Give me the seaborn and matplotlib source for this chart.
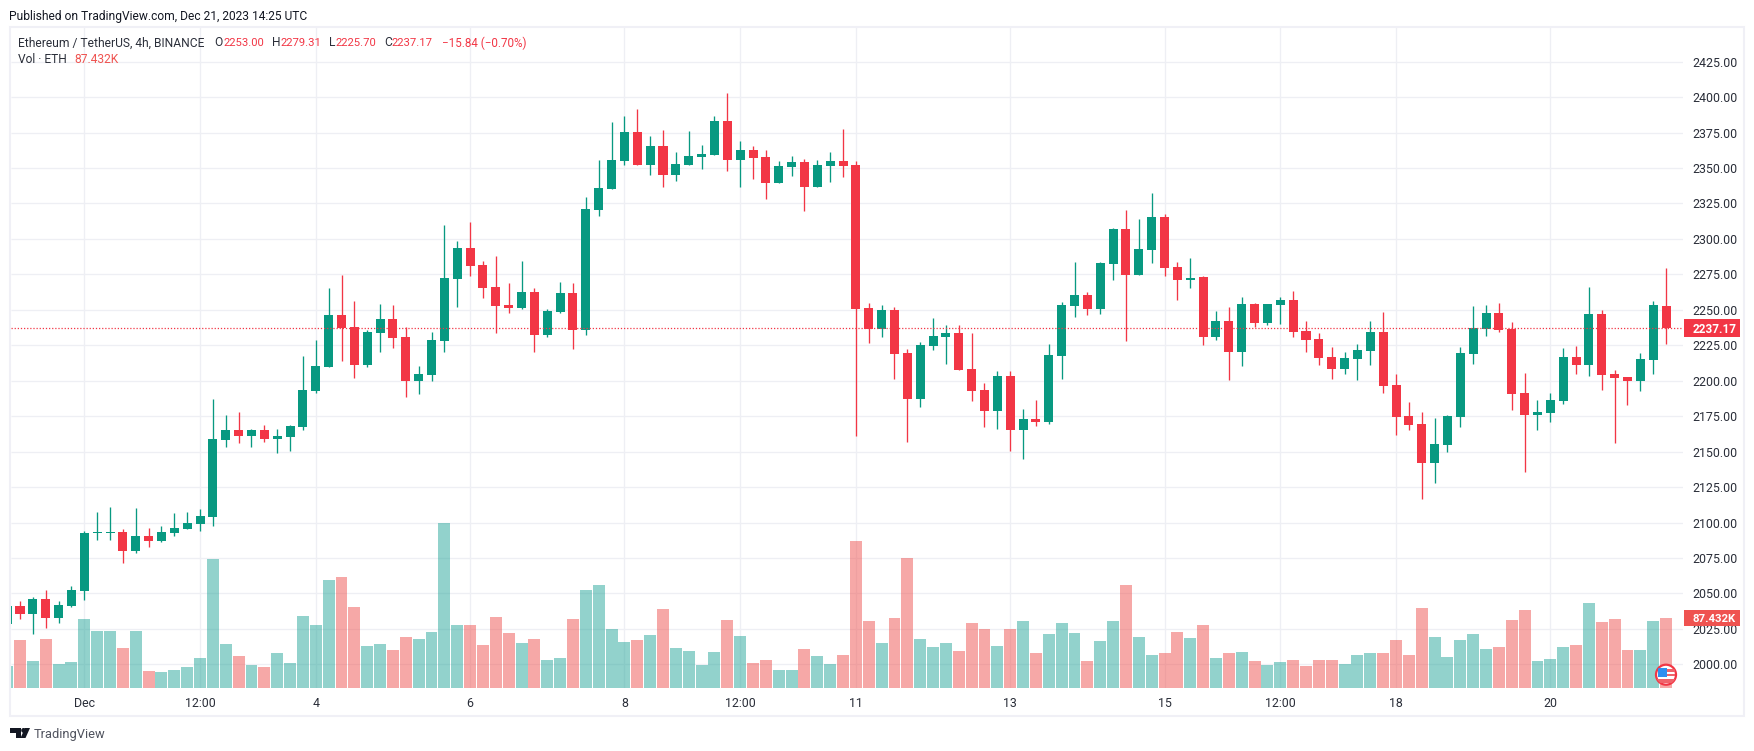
from matplotlib import pyplot as plt
from matplotlib.patches import Circle, Polygon, Rectangle
from matplotlib.transforms import blended_transform_factory
import numpy as np
import pandas as pd
import seaborn as sns

# candles in bar order, 4h, first bar is cut off by the left edge
first_bar = -6
opens = [2028.4, 2041.1, 2035.5, 2046.1, 2032.7, 2041.1, 2051.7, 2092.7, 2092.8, 2093.3,
         2079.9, 2090.5, 2087.0, 2092.6, 2095.4, 2099.0, 2103.9, 2158.2, 2165.3, 2161.0,
         2165.3, 2158.9, 2160.3, 2167.4, 2192.8, 2209.7, 2246.4, 2237.9, 2211.1, 2233.7,
         2243.5, 2230.8, 2199.8, 2204.0, 2228.0, 2271.7, 2293.6, 2281.6, 2266.1, 2253.4,
         2251.3, 2262.6, 2232.2, 2248.5, 2261.9, 2235.8, 2320.4, 2335.2, 2355.0, 2375.4,
         2352.1, 2365.5, 2345.1, 2352.1, 2357.8, 2359.2, 2383.2, 2355.7, 2362.7, 2357.8,
         2339.4, 2350.7, 2354.3, 2336.6, 2351.4, 2355.0, 2352.1, 2251.3, 2236.5, 2249.9,
         2219.6, 2187.1, 2224.5, 2230.8, 2233.7, 2208.3, 2193.5, 2178.7, 2203.3, 2165.3,
         2173.0, 2170.9, 2217.4, 2252.7, 2260.5, 2250.6, 2282.3, 2307.0, 2274.6, 2292.2,
         2315.5, 2280.2, 2271.0, 2273.2, 2230.8, 2242.1, 2220.3, 2254.1, 2240.7, 2253.4,
         2256.9, 2235.1, 2229.4, 2216.7, 2208.3, 2215.3, 2221.0, 2234.4, 2197.0, 2175.1,
         2169.5, 2142.0, 2154.7, 2174.4, 2218.9, 2236.5, 2247.8, 2236.5, 2191.4, 2175.8,
         2177.2, 2185.7, 2216.7, 2211.1, 2247.1, 2204.7, 2202.6, 2199.8, 2214.6, 2253.0]
highs = [2041.1, 2044.7, 2047.5, 2052.4, 2044.7, 2055.2, 2094.0, 2107.4, 2111.0, 2095.4,
         2110.2, 2096.1, 2097.6, 2106.7, 2107.4, 2109.5, 2187.1, 2175.8, 2178.0, 2166.0,
         2168.8, 2166.0, 2168.8, 2217.4, 2228.7, 2265.4, 2274.6, 2256.2, 2235.8, 2254.1,
         2253.4, 2237.9, 2210.4, 2234.4, 2309.8, 2298.5, 2311.9, 2284.4, 2288.0, 2268.9,
         2284.4, 2265.4, 2250.6, 2269.6, 2268.9, 2329.6, 2355.7, 2382.5, 2386.7, 2391.6,
         2372.6, 2376.8, 2361.3, 2376.1, 2366.2, 2386.7, 2402.9, 2369.1, 2365.5, 2362.7,
         2355.0, 2358.5, 2356.4, 2355.7, 2361.3, 2377.5, 2355.0, 2254.8, 2253.4, 2252.0,
         2222.4, 2227.3, 2244.2, 2239.3, 2239.3, 2233.7, 2198.4, 2206.9, 2206.9, 2180.1,
         2186.4, 2225.9, 2255.5, 2283.7, 2262.6, 2283.7, 2307.7, 2320.4, 2314.1, 2332.4,
         2317.6, 2283.7, 2286.6, 2273.9, 2249.2, 2252.0, 2259.0, 2254.8, 2254.1, 2259.0,
         2263.3, 2242.1, 2233.7, 2223.8, 2220.3, 2225.9, 2242.1, 2248.5, 2204.7, 2185.0,
         2178.0, 2173.7, 2175.8, 2223.8, 2252.7, 2253.4, 2254.8, 2241.4, 2205.5, 2186.4,
         2191.4, 2223.1, 2224.5, 2266.1, 2249.9, 2207.6, 2202.6, 2219.6, 2256.2, 2279.31]
lows = [2028.4, 2032.0, 2021.4, 2025.6, 2029.1, 2040.4, 2045.4, 2087.7, 2087.7, 2071.5,
        2078.5, 2082.7, 2086.3, 2090.5, 2095.4, 2094.0, 2097.6, 2153.3, 2156.1, 2153.3,
        2156.8, 2149.0, 2150.4, 2165.3, 2191.4, 2209.7, 2213.9, 2201.9, 2209.7, 2220.3,
        2223.1, 2188.5, 2190.6, 2199.8, 2220.3, 2252.0, 2273.9, 2258.3, 2233.7, 2247.8,
        2250.6, 2220.3, 2230.8, 2247.8, 2222.4, 2232.2, 2316.2, 2335.2, 2352.1, 2352.1,
        2345.1, 2336.6, 2340.9, 2352.1, 2349.3, 2359.2, 2347.9, 2336.6, 2342.3, 2328.2,
        2339.4, 2344.4, 2319.7, 2336.6, 2340.2, 2343.7, 2161.0, 2226.6, 2230.8, 2201.2,
        2156.8, 2181.5, 2221.7, 2211.8, 2207.6, 2185.7, 2167.4, 2166.0, 2150.4, 2144.8,
        2168.1, 2169.5, 2201.2, 2244.9, 2246.4, 2247.1, 2271.0, 2228.0, 2274.6, 2283.0,
        2273.9, 2256.9, 2265.4, 2225.2, 2228.7, 2200.5, 2210.4, 2237.9, 2239.3, 2240.0,
        2230.8, 2220.3, 2211.1, 2201.2, 2204.7, 2200.5, 2211.1, 2191.4, 2161.7, 2165.3,
        2116.6, 2127.9, 2149.7, 2167.4, 2211.8, 2231.5, 2234.4, 2179.4, 2135.6, 2165.3,
        2170.9, 2183.6, 2204.7, 2203.3, 2193.5, 2156.1, 2182.9, 2192.8, 2204.7, 2225.70]
closes = [2041.1, 2035.5, 2046.1, 2032.7, 2041.8, 2052.4, 2092.6, 2093.4, 2093.5, 2079.9,
          2090.5, 2087.0, 2093.3, 2096.1, 2099.7, 2104.6, 2158.9, 2165.3, 2161.0, 2165.3,
          2158.9, 2161.0, 2168.1, 2193.5, 2210.4, 2246.4, 2237.2, 2211.1, 2234.4, 2243.5,
          2230.1, 2199.8, 2204.7, 2228.7, 2272.4, 2293.6, 2280.9, 2265.4, 2252.7, 2251.3,
          2262.6, 2232.2, 2249.2, 2261.9, 2235.8, 2321.1, 2335.9, 2355.7, 2375.4, 2352.1,
          2365.5, 2345.1, 2352.8, 2358.5, 2359.9, 2383.2, 2355.7, 2362.7, 2357.1, 2339.4,
          2351.4, 2354.3, 2336.6, 2352.1, 2355.0, 2351.4, 2250.6, 2236.5, 2249.9, 2218.9,
          2187.1, 2225.2, 2231.5, 2233.7, 2207.6, 2192.8, 2178.7, 2203.3, 2165.3, 2173.0,
          2170.9, 2218.1, 2253.4, 2260.5, 2250.6, 2283.0, 2307.0, 2274.6, 2292.9, 2315.5,
          2279.5, 2271.0, 2272.4, 2230.8, 2242.1, 2220.3, 2254.1, 2240.7, 2254.1, 2256.9,
          2234.4, 2228.7, 2216.0, 2208.3, 2216.0, 2221.7, 2234.4, 2196.3, 2174.4, 2168.8,
          2142.0, 2155.4, 2175.1, 2219.6, 2237.2, 2247.8, 2235.8, 2190.6, 2175.8, 2178.0,
          2186.4, 2216.7, 2211.1, 2247.1, 2204.0, 2201.9, 2199.8, 2215.3, 2253.4, 2237.17]
volumes_k = [27.1, 59.5, 33.3, 60.8, 29.6, 32.1, 85.8, 70.8, 70.8, 49.5,
             70.8, 20.8, 19.6, 22.1, 25.8, 37.1, 160.7, 54.5, 39.6, 28.3,
             25.8, 43.3, 30.8, 89.5, 78.3, 134.5, 138.2, 100.8, 52.0, 54.5,
             47.0, 63.3, 60.8, 69.5, 206.1, 78.7, 78.7, 53.7, 88.7, 68.7,
             56.2, 61.2, 35.0, 37.5, 86.2, 122.4, 128.6, 73.7, 57.5, 60.0,
             66.2, 98.7, 50.0, 46.2, 28.7, 45.0, 84.9, 64.9, 31.2, 35.0,
             22.5, 22.5, 48.7, 40.0, 30.0, 41.2, 183.6, 83.7, 56.2, 87.4,
             162.4, 61.2, 51.2, 56.2, 46.2, 81.2, 73.7, 52.5, 73.7, 83.7,
             43.7, 67.4, 81.2, 68.7, 33.7, 58.7, 83.7, 128.6, 63.7, 41.2,
             43.7, 69.9, 62.4, 78.7, 37.5, 43.7, 45.0, 33.7, 28.7, 32.5,
             35.0, 27.5, 35.0, 35.0, 30.0, 41.2, 43.7, 43.7, 60.0, 41.2,
             99.9, 63.7, 38.7, 60.0, 67.4, 48.7, 51.2, 84.9, 97.4, 33.7,
             36.2, 51.2, 53.7, 106.2, 82.4, 86.2, 47.5, 47.5, 83.7, 87.432]

time_ticks = [0, 9, 18, 30, 42, 51, 60, 72, 84, 93, 102, 114]
time_labels = ["Dec", "12:00", "4", "6", "8", "12:00", "11", "13", "15", "12:00", "18", "20"]
price_ticks = list(range(2000, 2426, 25))
last_price = 2237.17
last_volume = 87.432

GREEN = "#089981"
RED = "#F23645"
VOL_GREEN = "#26A69A"
VOL_RED = "#EF5350"
GRID = "#EEEFF4"
FRAME = "#F0F0F6"
TEXT = "#2A2E39"
FONT = "Roboto"

sns.set_theme(style="white")
plt.rcParams["font.family"] = [FONT, "DejaVu Sans"]

data = pd.DataFrame({"open": opens, "high": highs, "low": lows, "close": closes, "volume": volumes_k})
data["bar"] = np.arange(first_bar, first_bar + len(data))
data["side"] = np.where(data["close"] >= data["open"], "up", "down")
data["color"] = data["side"].map({"up": GREEN, "down": RED})

fig = plt.figure(figsize=(17.54, 7.51), dpi=100, facecolor="white")
ax = fig.add_axes([11 / 1754, 1 - 688 / 751, (1683 - 11) / 1754, (688 - 27) / 751])
ax_vol = ax.twinx()

# grid and candles sit in the price axes, volume goes over them with alpha
ax.set_axisbelow(True)
ax.hlines(price_ticks, 0, 1, transform=ax.get_yaxis_transform(), color=GRID, lw=0.95, zorder=0)
ax.vlines(time_ticks, 0, 1, transform=ax.get_xaxis_transform(), color=GRID, lw=0.95, zorder=0)
ax.vlines(data["bar"], data["low"], data["high"], color=data["color"], lw=0.95, zorder=2)
ax.bar(data["bar"], (data["close"] - data["open"]).abs(), bottom=data[["open", "close"]].min(axis=1),
       width=0.7, color=data["color"], linewidth=0, zorder=3)
ax.axhline(last_price, color=RED, lw=0.9, ls=(0, (1, 1.5)), zorder=4)

sns.barplot(data=data, x="bar", y="volume", hue="side", hue_order=["up", "down"],
            palette={"up": VOL_GREEN, "down": VOL_RED}, native_scale=True, dodge=False,
            width=0.93, gap=0, saturation=1, alpha=0.5, linewidth=0, errorbar=None,
            legend=False, ax=ax_vol)

ax.set_xlim((11 - 84.3) / 12.86, (1683 - 84.3) / 12.86)
ax.set_ylim(2000 - 23.7 / 1.418, 2000 + 637.3 / 1.418)
ax_vol.set_ylim(0, 661 * last_volume / 70)
ax_vol.set_yticks([])
ax_vol.set_xlabel("")
ax_vol.set_ylabel("")

ax.yaxis.tick_right()
ax.set_yticks(price_ticks, [f"{p:.2f}" for p in price_ticks])
ax.set_xticks(time_ticks, time_labels)
ax.tick_params(axis="y", length=0, pad=6.5, labelsize=8.9, labelcolor=TEXT)
ax.tick_params(axis="x", length=0, pad=6.5, labelsize=8.9, labelcolor=TEXT)
ax_vol.tick_params(axis="x", length=0, labelbottom=False)
for axes in (ax, ax_vol):
    axes.patch.set_visible(False)
    sns.despine(ax=axes, left=True, right=True, top=True, bottom=True)

# value tags on the price scale
ax.add_patch(Rectangle((1.0005, last_price - 6), 0.0335, 12, transform=blended_transform_factory(ax.transAxes, ax.transData),
                       color=RED, clip_on=False, lw=0, zorder=5))
ax.text(1.0055, last_price, f"{last_price:.2f}", transform=blended_transform_factory(ax.transAxes, ax.transData),
        color="white", fontsize=8.5, fontweight="bold", va="center_baseline", ha="left", zorder=6)
ax_vol.add_patch(Rectangle((1.0005, last_volume - 10.6), 0.0335, 21.2, transform=blended_transform_factory(ax_vol.transAxes, ax_vol.transData),
                           color=VOL_RED, clip_on=False, lw=0, zorder=5))
ax_vol.text(1.0055, last_volume, f"{last_volume:.3f}K", transform=blended_transform_factory(ax_vol.transAxes, ax_vol.transData),
            color="white", fontsize=8.2, fontweight="bold", va="center_baseline", ha="left", zorder=6)

# page furniture on an overlay measured in image pixels
over = fig.add_axes([0, 0, 1, 1])
over.set_xlim(0, 1754)
over.set_ylim(751, 0)
over.axis("off")
over.add_patch(Rectangle((10, 27), 1734, 689, fill=False, edgecolor=FRAME, lw=1.5))

def label(x, y, text, color=TEXT, size=8.65):
    over.text(x, y, text, color=color, fontsize=size, va="center_baseline", ha="left")

label(9, 15, "Published on TradingView.com, Dec 21, 2023 14:25 UTC", color="#131722")
label(18, 41.5, "Ethereum / TetherUS, 4h, BINANCE")
for x, name in [(214.3, "O"), (271.7, "H"), (329, "L"), (384, "C")]:
    label(x, 41.5, name)
for x, value in [(223, "2253.00"), (280.3, "2279.31"), (335.7, "2225.70"), (391.7, "2237.17")]:
    label(x, 41.5, value, color=RED, size=8.1)
label(441.7, 41.5, "\u221215.84 (\u22120.70%)", color=RED, size=8.4)
label(18, 58, "Vol \u00b7 ETH")
label(74.6, 58, "87.432K", color=VOL_RED)

# TradingView mark and name
over.add_patch(Polygon([(10, 728), (21, 728), (21, 738), (15.5, 738), (15.5, 733), (10, 733)], color="#131722", lw=0))
over.add_patch(Circle((23.6, 730.4), 2.4, color="#131722", lw=0))
over.add_patch(Polygon([(30, 728), (25.5, 738), (20.5, 738), (25, 728)], color="#131722", lw=0))
label(33.5, 733, "TradingView", color="#50535E", size=9.3)

# earnings style flag marker on the last bar
ring = Circle((1666, 674.7), 10, facecolor="white", edgecolor=RED, lw=1.6, zorder=5)
over.add_patch(ring)
flag = [((1658, 668), 9.3, 8.7, "#2F8FEF"), ((1667.3, 669), 7.5, 2.6, "#F0626A"),
        ((1667.3, 673.5), 7.5, 2.6, "#F0626A"), ((1657, 679), 18, 3.5, "#F0626A")]
for corner, w, h, c in flag:
    stripe = Rectangle(corner, w, h, color=c, lw=0, zorder=6)
    over.add_patch(stripe)
    stripe.set_clip_path(ring)

fig.savefig("out.png", dpi=100, facecolor="white")
